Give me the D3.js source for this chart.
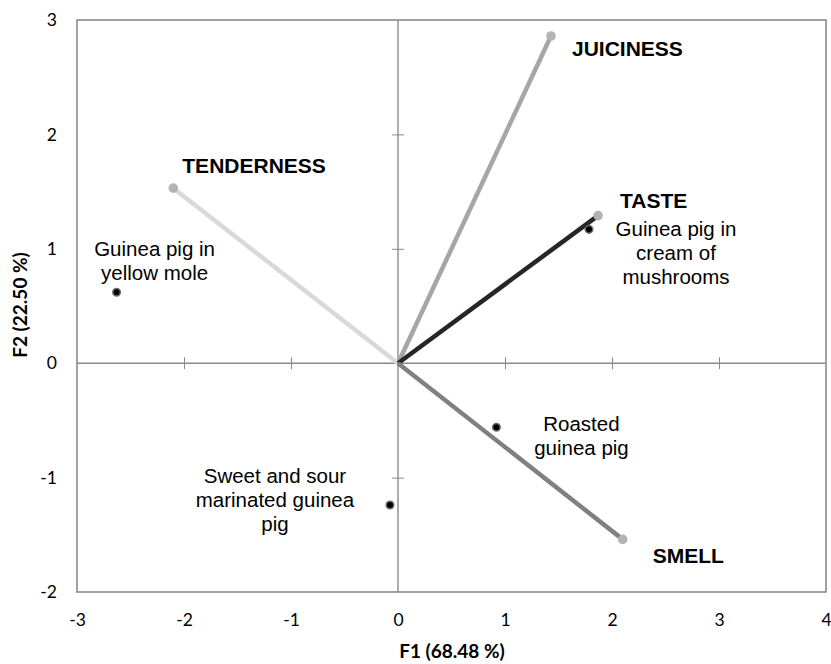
<!DOCTYPE html>
<html>
<head>
<meta charset="utf-8">
<script src="https://cdn.jsdelivr.net/npm/d3@7"></script>
<style>
  html, body { margin: 0; padding: 0; background: #fff; }
  svg { display: block; }
</style>
</head>
<body>
<svg id="chart" width="831" height="664"></svg>
<script>
// Biplot of sensory attributes (vectors) and preparations (observations)
const variables = ["JUICINESS", "TENDERNESS", "TASTE", "SMELL"];
const varF1 = [1.43, -2.10, 1.87, 2.10];
const varF2 = [2.86, 1.53, 1.29, -1.54];

const observations = [
  ["Guinea pig in", "yellow mole"],
  ["Guinea pig in", "cream of", "mushrooms"],
  ["Roasted", "guinea pig"],
  ["Sweet and sour", "marinated guinea", "pig"]
];
const obsF1 = [-2.63, 1.785, 0.92, -0.075];
const obsF2 = [0.62, 1.17, -0.56, -1.24];

const xTicks = [-3, -2, -1, 0, 1, 2, 3, 4];
const yTicks = [-2, -1, 0, 1, 2, 3];

(function draw() {
  const svg = d3.select("#chart");
  const mLeft = 77, mRight = 826, mTop = 20, mBottom = 592;

  const x = d3.scaleLinear().domain([-3, 4]).range([mLeft, mRight]);
  const y = d3.scaleLinear().domain([-2, 3]).range([mBottom, mTop]);

  const frameColor = "#8a8a8a";
  const tickFont = "Lato, 'Open Sans', sans-serif";
  const textFont = "'Liberation Sans', Arial, sans-serif";
  const fmt = d => String(d); // plain hyphen-minus, no decimals

  // plot frame
  svg.append("rect")
    .attr("x", mLeft).attr("y", mTop)
    .attr("width", mRight - mLeft).attr("height", mBottom - mTop)
    .attr("fill", "none").attr("stroke", frameColor).attr("stroke-width", 1.6);

  // zero axes with crossing ticks
  const xAxisInner = d3.axisBottom(x).tickValues(xTicks.filter(v => v > -3 && v < 4 && v !== 0))
    .tickSize(12).tickSizeOuter(0).tickFormat("");
  svg.append("g").attr("transform", `translate(0,${y(0) - 6})`).call(xAxisInner)
    .call(g => g.select(".domain").remove())
    .call(g => g.selectAll("line").attr("stroke", frameColor).attr("stroke-width", 1));
  svg.append("line")
    .attr("x1", mLeft).attr("x2", mRight).attr("y1", y(0)).attr("y2", y(0))
    .attr("stroke", frameColor).attr("stroke-width", 1.4);

  const yAxisInner = d3.axisLeft(y).tickValues(yTicks.filter(v => v > -2 && v < 3 && v !== 0))
    .tickSize(12).tickSizeOuter(0).tickFormat("");
  svg.append("g").attr("transform", `translate(${x(0) + 6},0)`).call(yAxisInner)
    .call(g => g.select(".domain").remove())
    .call(g => g.selectAll("line").attr("stroke", frameColor).attr("stroke-width", 1));
  svg.append("line")
    .attr("x1", x(0)).attr("x2", x(0)).attr("y1", mTop).attr("y2", mBottom)
    .attr("stroke", frameColor).attr("stroke-width", 1.4);

  // tick labels
  const xAxis = d3.axisBottom(x).tickValues(xTicks).tickSize(0).tickPadding(22).tickFormat(fmt);
  svg.append("g").attr("transform", `translate(0,${mBottom})`).call(xAxis)
    .call(g => g.select(".domain").remove())
    .call(g => g.selectAll("text").attr("font-family", tickFont).attr("font-size", 17.5).attr("fill", "#000"));

  const yAxis = d3.axisLeft(y).tickValues(yTicks).tickSize(0).tickPadding(20).tickFormat(fmt);
  svg.append("g").attr("transform", `translate(${mLeft},0)`).call(yAxis)
    .call(g => g.select(".domain").remove())
    .call(g => g.selectAll("text").attr("font-family", tickFont).attr("font-size", 17.5).attr("fill", "#000"));

  // axis titles
  svg.append("text")
    .attr("x", 452).attr("y", 658)
    .attr("text-anchor", "middle")
    .attr("font-family", tickFont).attr("font-weight", "bold").attr("font-size", 19)
    .text("F1 (68.48 %)");
  svg.append("text")
    .attr("transform", `translate(27,305) rotate(-90)`)
    .attr("text-anchor", "middle")
    .attr("font-family", tickFont).attr("font-weight", "bold").attr("font-size", 19)
    .text("F2 (22.50 %)");

  // variable vectors
  const vecColors = ["#a6a6a6", "#d9d9d9", "#262626", "#808080"];
  const vecData = variables.map((name, i) => ({ name, f1: varF1[i], f2: varF2[i], color: vecColors[i] }));

  svg.append("g").selectAll("line").data(vecData).join("line")
    .attr("x1", x(0)).attr("y1", y(0))
    .attr("x2", d => x(d.f1)).attr("y2", d => y(d.f2))
    .attr("stroke", d => d.color).attr("stroke-width", 4.5);

  svg.append("g").selectAll("circle").data(vecData).join("circle")
    .attr("cx", d => x(d.f1)).attr("cy", d => y(d.f2)).attr("r", 4.8)
    .attr("fill", "#b3b3b3");

  // variable labels (left edge / baseline offset from each vector tip)
  const varLabelOffset = { JUICINESS: [21, 20], TENDERNESS: [9, -15], TASTE: [22, -8], SMELL: [30, 24] };
  svg.append("g").selectAll("text").data(vecData).join("text")
    .attr("x", d => x(d.f1) + varLabelOffset[d.name][0])
    .attr("y", d => y(d.f2) + varLabelOffset[d.name][1])
    .attr("font-family", textFont).attr("font-weight", "bold").attr("font-size", 21)
    .attr("fill", "#000")
    .text(d => d.name);

  // observations
  const obsData = observations.map((lines, i) => ({ lines, f1: obsF1[i], f2: obsF2[i] }));
  svg.append("g").selectAll("circle").data(obsData).join("circle")
    .attr("cx", d => x(d.f1)).attr("cy", d => y(d.f2)).attr("r", 3.8)
    .attr("fill", "#000").attr("stroke", "#6f6f6f").attr("stroke-width", 1.5);

  // observation labels: centre x and first-baseline offsets relative to the point
  const obsLabelPos = [[38, -36], [87, 7], [85, 4], [-115, -22]];
  const labels = svg.append("g").selectAll("text").data(obsData).join("text")
    .attr("text-anchor", "middle")
    .attr("font-family", textFont).attr("font-size", 20.5).attr("fill", "#000");
  labels.each(function (d, i) {
    const t = d3.select(this);
    const cx = x(d.f1) + obsLabelPos[i][0];
    const cy = y(d.f2) + obsLabelPos[i][1];
    d.lines.forEach((ln, k) => {
      t.append("tspan").attr("x", cx).attr("y", cy + k * 24).text(ln);
    });
  });
})();
</script>
</body>
</html>
